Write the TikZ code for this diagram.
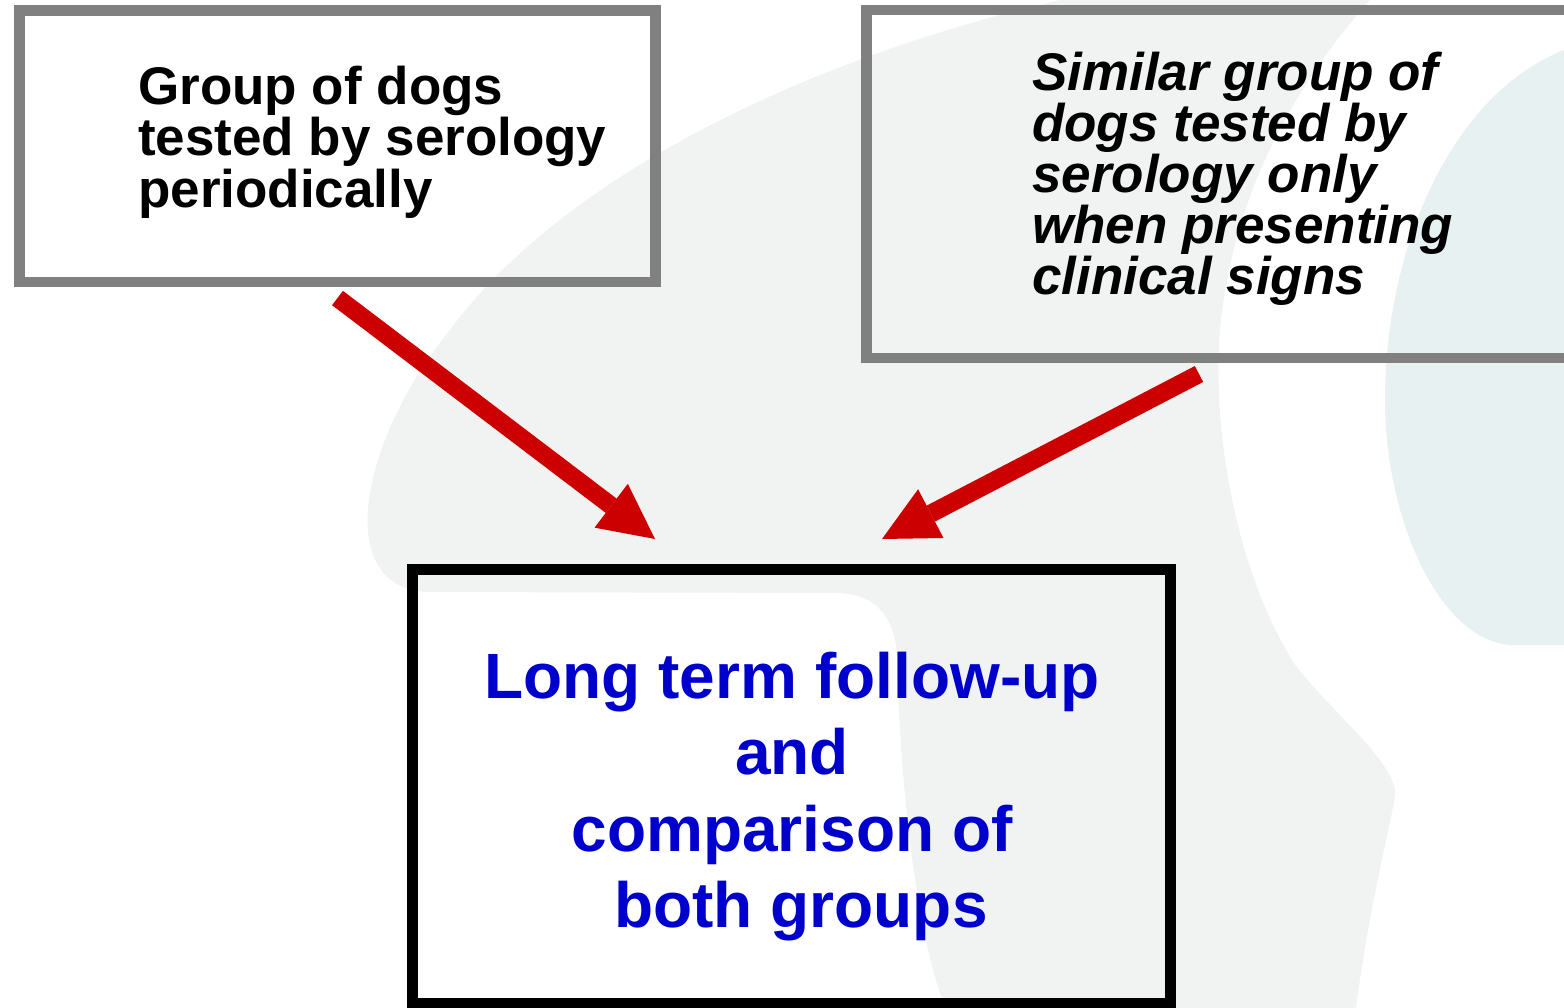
\documentclass[tikz,border=0pt]{standalone}
\usepackage{fontspec}
\setmainfont{Liberation Sans}
\usetikzlibrary{arrows.meta}
\definecolor{bggrey}{HTML}{F1F3F2}
\definecolor{bgteal}{HTML}{E8F1F1}
\definecolor{boxgrey}{HTML}{808080}
\definecolor{arrred}{HTML}{CC0000}
\definecolor{txtblue}{HTML}{0000CC}
\tikzset{
  greybox/.style={draw=boxgrey, line width=10.5pt, rectangle, inner sep=0pt, outer sep=0pt},
  blackbox/.style={draw=black, line width=11pt, rectangle, inner sep=0pt, outer sep=0pt},
  smalltext/.style={inner sep=0pt, align=left, font=\bfseries\fontsize{53pt}{51.5pt}\selectfont},
  smallitalic/.style={inner sep=0pt, align=left, font=\bfseries\itshape\fontsize{53pt}{51pt}\selectfont},
  bigtext/.style={inner sep=0pt, align=center, text=txtblue, font=\bfseries\fontsize{64pt}{76.6pt}\selectfont},
  redarrow/.style={draw=arrred, line width=18pt, -{Triangle[length=55pt, width=55pt, line width=0pt]}}
}
\begin{document}
\begin{tikzpicture}[x=1pt, y=-1pt]
\useasboundingbox (0,0) rectangle (1564,1008);
\clip (0,0) rectangle (1564,1008);
\fill[white] (0,0) rectangle (1564,1008);
% background shapes
\fill[bggrey] (1060,0) .. controls (800,60) and (560,180) .. (450,330)
  .. controls (360,440) and (330,590) .. (430,592) -- (840,593)
  .. controls (878,595) and (895,620) .. (897,655)
  .. controls (900,800) and (920,950) .. (946,1008) -- (1356,1008)
  .. controls (1370,900) and (1392,820) .. (1395,795)
  .. controls (1398,765) and (1330,710) .. (1295,665)
  .. controls (1235,570) and (1212,430) .. (1220,330)
  .. controls (1232,200) and (1290,90) .. (1370,0) -- cycle;
\fill[bgteal] (1564,50) .. controls (1450,95) and (1385,250) .. (1385,400)
  .. controls (1385,520) and (1440,640) .. (1510,645) -- (1564,645) -- cycle;
% boxes
\node[greybox, minimum width=636pt, minimum height=271.5pt] (g1) at (337.5,146.25) {};
\node[greybox, minimum width=753.5pt, minimum height=348pt] (g2) at (1243.25,184) {};
\node[blackbox, minimum width=757.5pt, minimum height=433.5pt] (c) at (791.25,786.25) {};
% texts
\node[smalltext, anchor=north west] (g1t) at (138,65.5) {Group of dogs\\tested by serology\\periodically};
\node[smallitalic, anchor=north west] (g2t) at (1032,51.5) {Similar group of\\dogs tested by\\serology only\\when presenting\\clinical signs};
\node[bigtext, anchor=north] (ct) at (792,651.5) {Long term follow-up\\and\\comparison of\\\hspace*{0.28em}both groups};
% arrows
\coordinate (a1s) at ([yshift=-16pt]g1.south);
\coordinate (a1e) at (655,539);
\coordinate (a2s) at (1199,374);
\coordinate (a2e) at (882,539);
\draw[redarrow] (a1s) -- (a1e);
\draw[redarrow] (a2s) -- (a2e);
\end{tikzpicture}
\end{document}
